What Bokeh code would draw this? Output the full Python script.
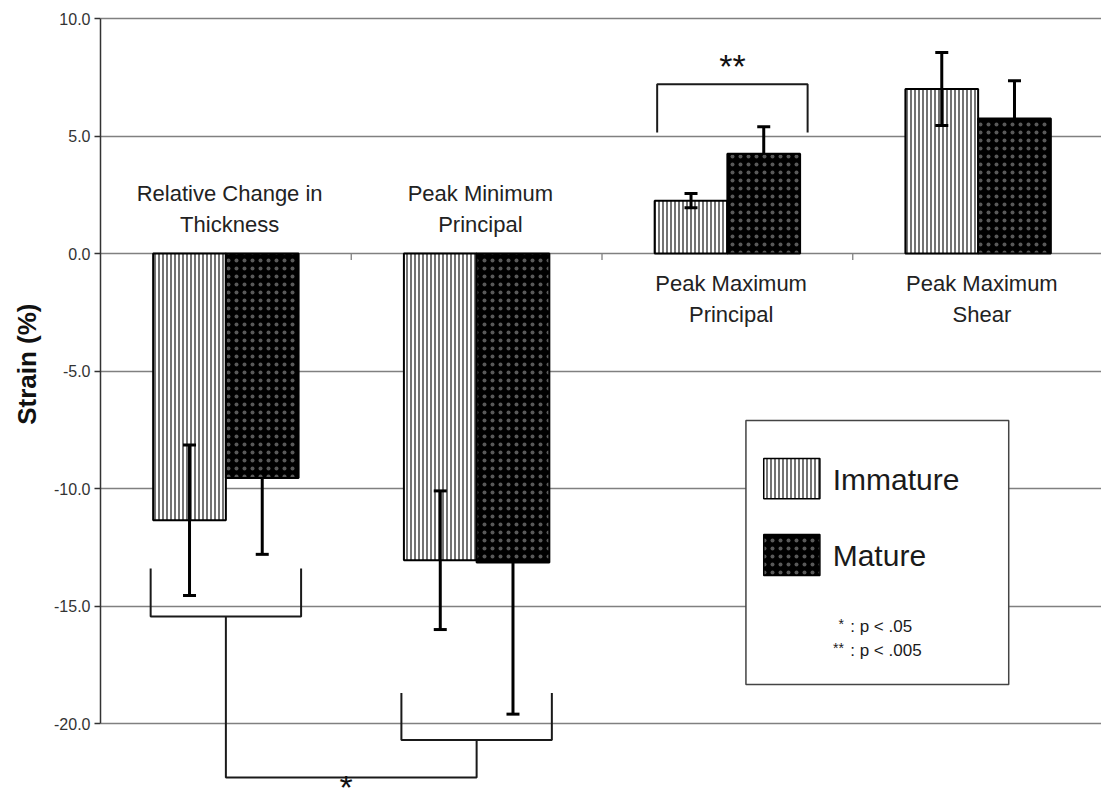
import math
from bokeh.plotting import figure
from bokeh.models import (ColumnDataSource, Whisker, TeeHead, FixedTicker, Label, Title,
                          Range1d, PrintfTickFormatter)
from bokeh.embed import file_html
from bokeh.resources import INLINE
from bokeh.core.properties import value

# ---------------- data ----------------
categories = ["Relative Change in\nThickness", "Peak Minimum\nPrincipal",
              "Peak Maximum\nPrincipal", "Peak Maximum\nShear"]
immature_mean = [-11.35, -13.05, 2.25, 7.0]
immature_err = [3.2, 2.95, 0.3, 1.55]
mature_mean = [-9.55, -13.15, 4.25, 5.75]
mature_err = [3.25, 6.45, 1.15, 1.6]
y_ticks = [-20, -15, -10, -5, 0, 5, 10]
series_names = ["Immature", "Mature"]
sig_labels = ["*", "**"]
sig_text = [": p < .05", ": p < .005"]

FONT = value("Liberation Sans")

# ---------------- figure ----------------
p = figure(width=1101, height=806, output_backend="svg", toolbar_location=None,
           x_range=Range1d(0, 3.992), y_range=Range1d(-23.53, 10.3),
           min_border_left=99, min_border_right=0, min_border_top=11, min_border_bottom=0,
           x_axis_type=None)
p.outline_line_color = None
p.background_fill_color = "white"

p.xgrid.visible = False
p.ygrid.ticker = FixedTicker(ticks=y_ticks)
p.ygrid.grid_line_color = "#808080"
p.ygrid.grid_line_width = 1.3

ax = p.yaxis[0]
ax.ticker = FixedTicker(ticks=y_ticks)
ax.formatter = PrintfTickFormatter(format="%.1f")
ax.bounds = (-20, 10)
ax.major_tick_out = 6
ax.major_tick_in = 0
ax.minor_tick_line_color = None
ax.major_label_standoff = 4
ax.major_label_text_font = "Liberation Sans"
ax.major_label_text_font_size = "16px"
ax.major_label_text_color = "#333333"
ax.axis_line_color = "#333333"
ax.axis_line_width = 1.5
ax.major_tick_line_color = "#333333"
ax.major_tick_line_width = 1.3

# y axis title as a side title (allows shifting along the axis)
p.add_layout(Title(text="Strain (%)", align="right", offset=292, standoff=19,
                   text_font="Liberation Sans", text_font_style="bold",
                   text_font_size="26px", text_color="#111111"), "left")

n = len(categories)
centers = [i + 0.5 for i in range(n)]
off = 0.145
bw = 0.29
x_imm = [c - off for c in centers]
x_mat = [c + off for c in centers]

# category separator ticks on zero line
p.segment(x0=list(range(1, n)), y0=[0] * (n - 1), x1=list(range(1, n)), y1=[-0.27] * (n - 1),
          line_color="#808080", line_width=1.3)

IMM = dict(hatch_pattern="|", hatch_scale=4, hatch_weight=1.1, hatch_color="black")
MAT = dict(hatch_pattern=".", hatch_scale=8, hatch_color="white", hatch_alpha=0.35)

# error bars (mature ones sit under their black bars, as in the original)
for xs, m, e, lvl in ((x_imm, immature_mean, immature_err, "overlay"),
                      (x_mat, mature_mean, mature_err, "underlay")):
    src = ColumnDataSource(dict(x=xs, upper=[a + b for a, b in zip(m, e)],
                                lower=[a - b for a, b in zip(m, e)]))
    w = Whisker(base="x", upper="upper", lower="lower", source=src,
                line_color="black", line_width=3, level=lvl,
                upper_head=TeeHead(size=13, line_width=3, line_color="black"),
                lower_head=TeeHead(size=13, line_width=3, line_color="black"))
    p.add_layout(w)

# bars
p.vbar(x=x_imm, top=immature_mean, bottom=0, width=bw, fill_color="white",
       line_color="black", line_width=2, **IMM)
p.vbar(x=x_mat, top=mature_mean, bottom=0, width=bw, fill_color="black",
       line_color="black", line_width=2, **MAT)

# category labels
label_y = [1.9 if v < 0 else -1.95 for v in immature_mean]
p.text(x=[c + 0.015 for c in centers], y=label_y, text=categories, text_align="center",
       text_baseline="middle", text_font=FONT, text_font_size="22px",
       text_color="#222222", text_line_height=1.25)

# significance brackets
hw = 0.3
bxs, bys = [], []
c3 = centers[2] + 0.02
bxs.append([c3 - hw, c3 - hw, c3 + hw, c3 + hw]); bys.append([5.15, 7.2, 7.2, 5.15])
bxs.append([centers[0] - hw, centers[0] - hw, centers[0] + hw, centers[0] + hw]); bys.append([-13.4, -15.45, -15.45, -13.4])
bxs.append([centers[1] - hw, centers[1] - hw, centers[1] + hw, centers[1] + hw]); bys.append([-18.7, -20.7, -20.7, -18.7])
bxs.append([centers[0], centers[0], centers[1], centers[1]]); bys.append([-15.45, -22.3, -22.3, -20.7])
p.multi_line(xs=bxs, ys=bys, line_color="#1a1a1a", line_width=2)

p.add_layout(Label(x=c3, y=7.98, text=sig_labels[1], text_align="center", text_baseline="middle",
                   text_font="Liberation Sans", text_font_size="34px", text_color="#111111"))
p.add_layout(Label(x=(centers[0] + centers[1]) / 2 - 0.02, y=-23.5, text=sig_labels[0],
                   text_align="center", text_baseline="bottom",
                   text_font="Liberation Sans", text_font_size="34px", text_color="#111111"))

# legend box
p.quad(left=[2.574], right=[3.622], top=[-7.106], bottom=[-18.34], fill_color="white",
       line_color="#444444", line_width=1.5)
p.quad(left=[2.645], right=[2.869], top=[-8.72], bottom=[-10.43], fill_color="white",
       line_color="black", line_width=1.5, **IMM)
p.quad(left=[2.645], right=[2.869], top=[-11.96], bottom=[-13.70], fill_color="black",
       line_color="black", line_width=1.5, **MAT)
p.text(x=[2.92, 2.92], y=[-9.6, -12.85], text=series_names, text_align="left",
       text_baseline="middle", text_font=FONT, text_font_size="30px", text_color="#1a1a1a")
p.text(x=[2.965, 2.965], y=[-15.75, -16.8], text=sig_labels, text_align="right",
       text_baseline="middle", text_font=FONT, text_font_size="14px", text_color="#1a1a1a")
p.text(x=[2.99, 2.99], y=[-15.85, -16.9], text=sig_text, text_align="left",
       text_baseline="middle", text_font=FONT, text_font_size="17px", text_color="#1a1a1a")

open("out.html", "w").write(file_html(p, INLINE))
